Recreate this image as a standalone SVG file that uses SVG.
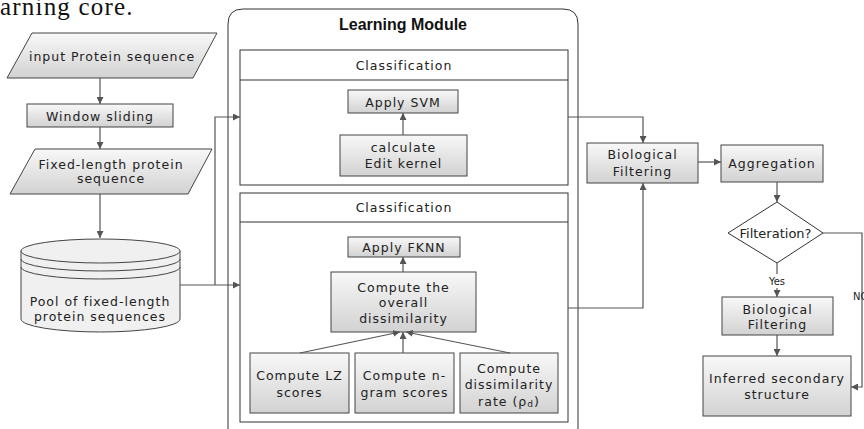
<svg xmlns="http://www.w3.org/2000/svg" width="864" height="429" viewBox="0 0 864 429">
<style>
.t{font-family:"DejaVu Sans",Verdana,sans-serif;font-size:12.5px;letter-spacing:1px;fill:#222;text-anchor:middle}
.box{fill:url(#g);stroke:#444;stroke-width:1}
.w{fill:#fff;stroke:#333;stroke-width:1}
.c{fill:none;stroke:#555;stroke-width:1.2}
.a{marker-end:url(#ar)}
</style>
<defs>
<linearGradient id="g" x1="0" y1="0" x2="0" y2="1">
<stop offset="0" stop-color="#f8f8f8"/>
<stop offset="1" stop-color="#d2d2d2"/>
</linearGradient>
<marker id="ar" viewBox="0 0 10 10" refX="10" refY="5" markerWidth="7" markerHeight="7" markerUnits="userSpaceOnUse" orient="auto">
<path d="M0,0L10,5L0,10z" fill="#555"/>
</marker>
</defs>
<rect width="864" height="429" fill="#fff"/>
<text x="0" y="15" style="font-family:'Liberation Serif',serif;font-size:25px;letter-spacing:1.2px;fill:#111">arning core.</text>

<g id="module">
<path d="M228,429V24Q228,9 243,9H563Q578,9 578,24V429" fill="#fff" stroke="#333" stroke-width="1"/>
<text x="403" y="29.5" style="font-family:'Liberation Sans',Arial,sans-serif;font-size:16px;font-weight:bold;text-anchor:middle;fill:#111">Learning Module</text>
</g>
<g id="class1">
<rect class="w" x="240" y="50" width="328" height="135"/>
<line x1="240" y1="80" x2="568" y2="80" stroke="#333"/>
<text class="t" x="404" y="69.5">Classification</text>
</g>
<g id="class2">
<rect class="w" x="240" y="193" width="328" height="229"/>
<line x1="240" y1="222" x2="568" y2="222" stroke="#333"/>
<text class="t" x="404" y="211.5">Classification</text>
</g>

<g id="input">
<path class="box" d="M32,33H217L193,78H7z"/>
<text class="t" x="112" y="60.5">input Protein sequence</text>
</g>
<g id="window">
<rect class="box" x="27" y="104" width="146" height="23"/>
<text class="t" x="100" y="120.5">Window sliding</text>
</g>
<g id="fixed">
<path class="box" d="M35,149H212L188,194H10z"/>
<text class="t" x="111" y="168.5">Fixed-length protein</text>
<text class="t" x="111" y="182.5">sequence</text>
</g>
<g id="pool">
<path d="M21,251V319A79.5,13 0 0 0 180,319V251" fill="#f0f0f0" stroke="#444"/>
<ellipse cx="100.5" cy="251" rx="79.5" ry="12" fill="#f0f0f0" stroke="#444"/>
<path d="M21,259A79.5,12 0 0 0 180,259M21,267A79.5,12 0 0 0 180,267" fill="none" stroke="#444"/>
<text class="t" x="100" y="305.5">Pool of fixed-length</text>
<text class="t" x="100" y="320.5">protein sequences</text>
</g>

<g id="svm">
<rect class="box" x="348" y="90" width="110" height="23"/>
<text class="t" x="403" y="106.5">Apply SVM</text>
</g>
<g id="kernel">
<rect class="box" x="340" y="135" width="127" height="41"/>
<text class="t" x="403.5" y="151.5">calculate</text>
<text class="t" x="403.5" y="167.5">Edit kernel</text>
</g>
<g id="fknn">
<rect class="box" x="348" y="237" width="112" height="20"/>
<text class="t" x="404" y="251.5">Apply FKNN</text>
</g>
<g id="overall">
<rect class="box" x="331" y="272" width="145" height="60"/>
<text class="t" x="403.5" y="291.5">Compute the</text>
<text class="t" x="403.5" y="306.5">overall</text>
<text class="t" x="403.5" y="322.5">dissimilarity</text>
</g>
<g id="lz">
<rect class="box" x="250" y="353" width="99" height="60"/>
<text class="t" x="299.5" y="379.5">Compute LZ</text>
<text class="t" x="299.5" y="396.5">scores</text>
</g>
<g id="ngram">
<rect class="box" x="355" y="353" width="99" height="60"/>
<text class="t" x="404.5" y="379.5">Compute n-</text>
<text class="t" x="404.5" y="396.5">gram scores</text>
</g>
<g id="rate">
<rect class="box" x="460" y="353" width="98" height="60"/>
<text class="t" x="509" y="372.5">Compute</text>
<text class="t" x="509" y="388.5">dissimilarity</text>
<text class="t" x="509" y="405.5">rate (ρ<tspan font-size="9" dy="1.5">d</tspan><tspan dy="-1.5">)</tspan></text>
</g>

<g id="bio1">
<rect class="box" x="587" y="143" width="111" height="40"/>
<text class="t" x="642.5" y="158.5">Biological</text>
<text class="t" x="642.5" y="175.5">Filtering</text>
</g>
<g id="aggregation">
<rect class="box" x="721" y="145" width="102" height="37"/>
<text class="t" x="772" y="167.5">Aggregation</text>
</g>
<g id="decision">
<path d="M777,202L823,233L777,263L728,233z" fill="#fff" stroke="#333"/>
<text x="775.5" y="237.5" style="font-family:'DejaVu Sans',Verdana,sans-serif;font-size:13px;text-anchor:middle;fill:#222">Filteration?</text>
</g>
<g id="bio2">
<rect class="box" x="722" y="297" width="111" height="38"/>
<text class="t" x="777.5" y="313.5">Biological</text>
<text class="t" x="777.5" y="328.5">Filtering</text>
</g>
<g id="inferred">
<rect class="box" x="703" y="356" width="148" height="60"/>
<text class="t" x="777" y="382.5">Inferred secondary</text>
<text class="t" x="777" y="398.5">structure</text>
</g>

<g id="connectors">
<line class="c a" x1="100" y1="78" x2="100" y2="104"/>
<line class="c a" x1="100" y1="127" x2="100" y2="149"/>
<line class="c a" x1="100" y1="194" x2="100" y2="238"/>
<polyline class="c a" points="180,285 240,285"/>
<polyline class="c a" points="215,285 215,117 240,117"/>
<line class="c a" x1="403" y1="135" x2="403" y2="113"/>
<line class="c a" x1="403" y1="272" x2="403" y2="257"/>
<line class="c a" x1="300" y1="353" x2="400" y2="332"/>
<line class="c a" x1="403" y1="353" x2="403" y2="332"/>
<line class="c a" x1="510" y1="353" x2="406" y2="332"/>
<polyline class="c a" points="568,117 643,117 643,143"/>
<polyline class="c a" points="568,308 643,308 643,183"/>
<line class="c a" x1="698" y1="162" x2="721" y2="162"/>
<line class="c a" x1="777" y1="182" x2="777" y2="202"/>
<line class="c" x1="777" y1="263" x2="777" y2="274"/>
<line class="c a" x1="777" y1="288" x2="777" y2="297"/>
<line class="c a" x1="777" y1="335" x2="777" y2="356"/>
<polyline class="c a" points="823,233 862,233 862,387 851,387"/>
<text x="777" y="284.5" style="font-family:'DejaVu Sans',Verdana,sans-serif;font-size:10px;text-anchor:middle;fill:#222">Yes</text>
<text x="853" y="299.5" style="font-family:'DejaVu Sans',Verdana,sans-serif;font-size:10px;fill:#222">NO</text>
</g>
</svg>
